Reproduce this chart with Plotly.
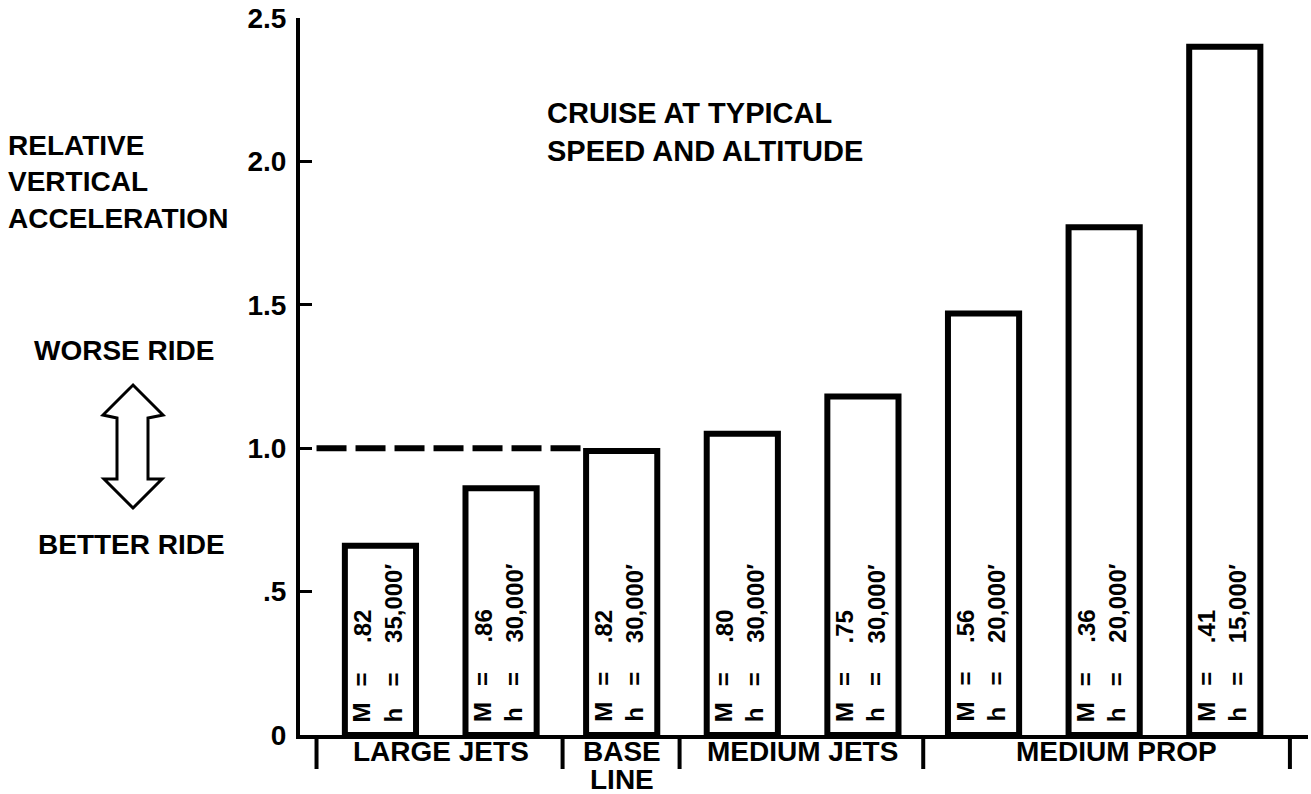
import plotly.graph_objects as go

# ---- data ----
bar_pos = [0, 1, 2, 3, 4, 5, 6, 7]
values = [0.66, 0.86, 0.99, 1.05, 1.18, 1.47, 1.77, 2.40]
mach = [".82", ".86", ".82", ".80", ".75", ".56", ".36", ".41"]
altitude = ["35,000\u2032", "30,000\u2032", "30,000\u2032", "30,000\u2032",
            "30,000\u2032", "20,000\u2032", "20,000\u2032", "15,000\u2032"]
group_labels = ["LARGE JETS", "BASE<br>LINE", "MEDIUM JETS", "MEDIUM PROP"]
group_centers = [0.5, 2.0, 3.5, 6.1]
group_edges = [-0.53, 1.51, 2.48, 4.5, 7.54]
baseline_value = 1.0
y_tickvals = [0, 0.5, 1.0, 1.5, 2.0, 2.5]
y_ticktext = ["0", ".5", "1.0", "1.5", "2.0", "2.5"]

# ---- layout geometry (pixels) ----
W_PX, H_PX = 1311, 794
L, R, T, B = 300, 1308, 18, 735
PW, PH = R - L, B - T


def px2x(px):
    return (px - L) / PW


def py2y(py):
    return (B - py) / PH


FONT = "Liberation Sans, Arial, Helvetica, sans-serif"
BIG = dict(family=FONT, size=28, color="black", weight="bold")
SMALL = dict(family=FONT, size=24, color="black", weight="bold")

fig = go.Figure()
fig.add_trace(go.Bar(
    x=bar_pos, y=values, width=0.59,
    marker=dict(color="white", line=dict(color="black", width=6)),
    showlegend=False, hoverinfo="skip",
))

annotations = []
# rotated labels inside bars
for xi, m, h in zip(bar_pos, mach, altitude):
    for txt, ys in (("M<br>h", 11), ("=<br>=", 47), (m + "<br>" + h, 90)):
        annotations.append(dict(
            x=xi, y=0, xref="x", yref="y", text=txt, showarrow=False,
            textangle=-90, xanchor="center", yanchor="bottom",
            xshift=-3, yshift=ys, align="left", font=SMALL,
        ))

# group labels under the axis
for lab, xc in zip(group_labels, group_centers):
    for k, line in enumerate(lab.split("<br>")):
        annotations.append(dict(
            x=xc, y=py2y(752 + 27 * k), xref="x", yref="paper", text=line,
            showarrow=False, xanchor="center", yanchor="middle", font=BIG,
        ))

# free texts
annotations += [
    dict(x=px2x(545), y=py2y(132), xref="paper", yref="paper",
         text="CRUISE AT TYPICAL<br>SPEED AND ALTITUDE", showarrow=False,
         xanchor="left", yanchor="middle", align="left",
         font=dict(BIG, size=29)),
    dict(x=px2x(6), y=py2y(182), xref="paper", yref="paper",
         text="RELATIVE<br>VERTICAL<br>ACCELERATION", showarrow=False,
         xanchor="left", yanchor="middle", align="left", font=BIG),
    dict(x=px2x(124), y=py2y(350), xref="paper", yref="paper",
         text="WORSE RIDE", showarrow=False,
         xanchor="center", yanchor="middle", font=BIG),
    dict(x=px2x(131), y=py2y(544), xref="paper", yref="paper",
         text="BETTER RIDE", showarrow=False,
         xanchor="center", yanchor="middle", font=BIG),
]

shapes = []
# dashed reference line at baseline value
shapes.append(dict(type="line", xref="x", yref="y", x0=-0.53, x1=1.66,
                   y0=baseline_value, y1=baseline_value,
                   line=dict(color="black", width=6, dash="30px,9px")))
# group bracket ticks
for e in group_edges:
    shapes.append(dict(type="line", xref="x", yref="paper", x0=e, x1=e,
                       y0=py2y(735), y1=py2y(769),
                       line=dict(color="black", width=4)))
# double arrow
pts = [(133, 385), (163, 415), (148, 418), (148, 479), (162, 479),
       (133, 508), (104, 479), (117, 479), (117, 418), (103, 415)]
path = "M " + " L ".join(f"{px2x(a):.5f},{py2y(b):.5f}" for a, b in pts) + " Z"
shapes.append(dict(type="path", xref="paper", yref="paper", path=path,
                   line=dict(color="black", width=3), fillcolor="white"))

fig.update_layout(
    width=W_PX, height=H_PX,
    margin=dict(l=L, r=W_PX - R, t=T, b=H_PX - B, pad=0),
    paper_bgcolor="white", plot_bgcolor="white",
    annotations=annotations, shapes=shapes, showlegend=False,
    xaxis=dict(range=[-0.667, 7.69], showgrid=False, zeroline=False,
               showticklabels=False, ticks="", showline=True,
               linecolor="black", linewidth=4, fixedrange=True),
    yaxis=dict(range=[0, 2.5], showgrid=False, zeroline=False,
               tickvals=y_tickvals, ticktext=y_ticktext, ticks="inside",
               ticklen=12, tickwidth=3, tickcolor="black",
               ticklabelstandoff=4, tickfont=BIG,
               showline=True, linecolor="black", linewidth=4, fixedrange=True),
)

fig.write_html(
    "out.html",
    config={"displayModeBar": False},
    post_script="document.body.style.margin='0px';"
                "document.body.style.overflow='hidden';",
)
